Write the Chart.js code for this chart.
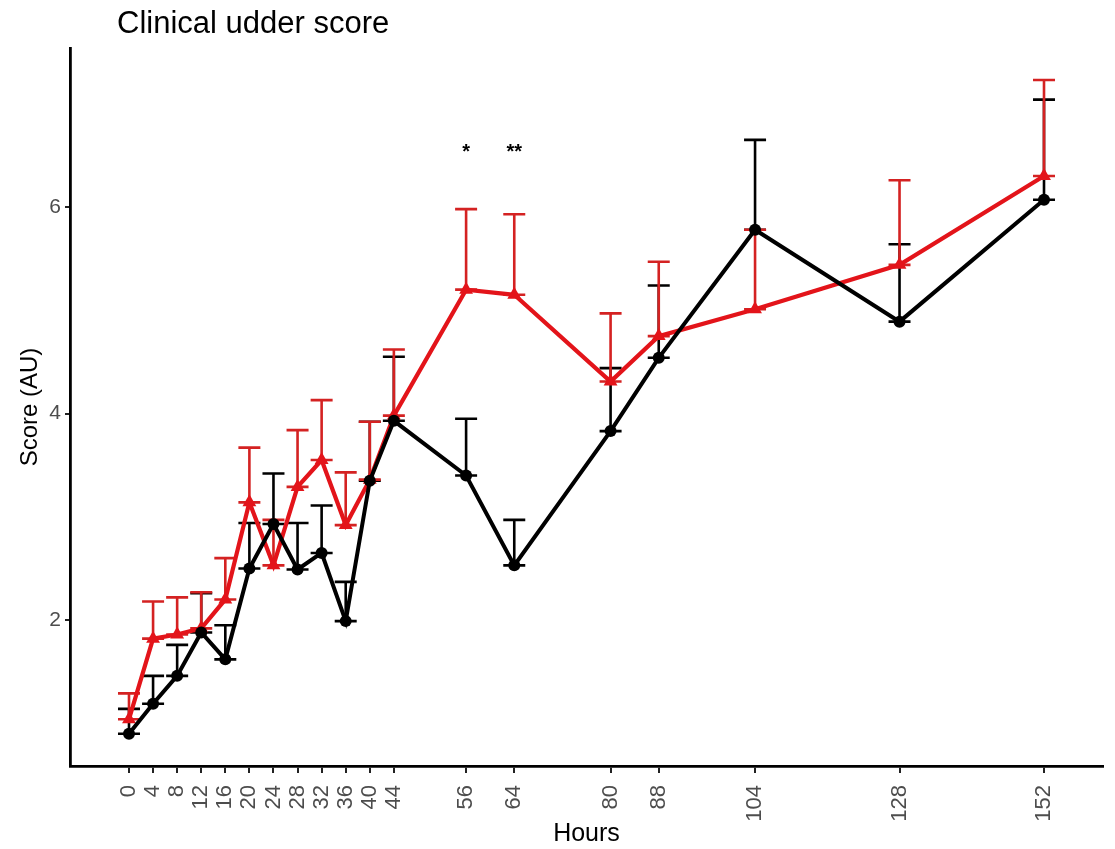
<!DOCTYPE html>
<html>
<head>
<meta charset="utf-8">
<script src="https://cdn.jsdelivr.net/npm/chart.js@4/dist/chart.umd.min.js"></script>
<style>
  body { margin: 0; background: #fff; }
  #wrap { width: 1115px; height: 849px; }
</style>
</head>
<body>
<div id="wrap"><canvas id="myChart" width="1115" height="849"></canvas></div>
<script>
// data
const hours = [0, 4, 8, 12, 16, 20, 24, 28, 32, 36, 40, 44, 56, 64, 80, 88, 104, 128, 152]
const blackMean = [0.90, 1.19, 1.46, 1.88, 1.62, 2.50, 2.93, 2.49, 2.65, 1.99, 3.35, 3.93, 3.40, 2.53, 3.83, 4.54, 5.78, 4.89, 6.07]
const blackUpper = [1.14, 1.46, 1.76, 2.26, 1.95, 2.94, 3.42, 2.94, 3.11, 2.37, 3.92, 4.55, 3.95, 2.97, 4.44, 5.24, 6.65, 5.64, 7.04]
const redMean = [1.04, 1.82, 1.86, 1.92, 2.20, 3.14, 2.53, 3.29, 3.55, 2.92, 3.36, 3.98, 5.20, 5.15, 4.31, 4.75, 5.01, 5.44, 6.30]
const redUpper = [1.29, 2.18, 2.22, 2.27, 2.60, 3.67, 2.97, 3.84, 4.13, 3.43, 3.92, 4.62, 5.98, 5.93, 4.97, 5.47, 5.78, 6.26, 7.23]
const yTicks = [2, 4, 6]
const starHours = [56, 64]
const starLabels = ["*", "**"]
const starLevel = 6.53

const blackColor = "#000000"
const redColor = "#e3141a"
const redBarColor = "#d42222"
const fontFamily = "'Liberation Sans', Arial, sans-serif"

function toPoints(means) {
    return hours.map((h, i) => ({ x: h, y: means[i] }))
}

// upper error bars, cap at mean and at mean + se
const errorBars = {
    id: "errorBars",
    beforeDatasetsDraw(chart) {
        const ctx = chart.ctx
        const xs = chart.scales.x
        const ys = chart.scales.y
        const sets = [
            { mean: blackMean, up: blackUpper, color: blackColor, w: 2.6 },
            { mean: redMean, up: redUpper, color: redBarColor, w: 2.6 }
        ]
        ctx.save()
        sets.forEach(s => {
            ctx.strokeStyle = s.color
            ctx.lineWidth = s.w
            for (let i = 0; i < hours.length; i++) {
                const px = xs.getPixelForValue(hours[i])
                const y0 = ys.getPixelForValue(s.mean[i])
                const y1 = ys.getPixelForValue(s.up[i])
                ctx.beginPath()
                ctx.moveTo(px, y0)
                ctx.lineTo(px, y1)
                ctx.moveTo(px - 11, y1)
                ctx.lineTo(px + 11, y1)
                ctx.moveTo(px - 11, y0)
                ctx.lineTo(px + 11, y0)
                ctx.stroke()
            }
        })
        ctx.restore()
    }
}

const extras = {
    id: "extras",
    afterDraw(chart) {
        const ctx = chart.ctx
        const xs = chart.scales.x
        const ys = chart.scales.y
        ctx.save()
        ctx.fillStyle = "#000"
        ctx.font = "bold 20px " + fontFamily
        ctx.textAlign = "center"
        ctx.textBaseline = "middle"
        for (let i = 0; i < starHours.length; i++) {
            ctx.fillText(starLabels[i], xs.getPixelForValue(starHours[i]), ys.getPixelForValue(starLevel))
        }
        ctx.font = "31px " + fontFamily
        ctx.textAlign = "left"
        ctx.textBaseline = "alphabetic"
        ctx.fillText("Clinical udder score", 117, 33)
        ctx.restore()
    }
}

new Chart("myChart", {
    type: "line",
    data: {
        datasets: [{
            data: toPoints(blackMean),
            borderColor: blackColor,
            backgroundColor: blackColor,
            borderWidth: 4,
            pointStyle: "circle",
            pointRadius: 6,
            pointBorderWidth: 0,
            tension: 0
        }, {
            data: toPoints(redMean),
            borderColor: redColor,
            backgroundColor: redColor,
            borderWidth: 4.2,
            pointStyle: "triangle",
            pointRadius: 8,
            pointBorderWidth: 0,
            tension: 0
        }]
    },
    options: {
        responsive: false,
        animation: false,
        layout: { padding: { top: 48, right: 12, left: 0, bottom: 0 } },
        plugins: {
            legend: { display: false },
            tooltip: { enabled: false }
        },
        scales: {
            x: {
                type: "linear",
                min: -9.8,
                max: 161.8,
                afterBuildTicks: axis => { axis.ticks = hours.map(v => ({ value: v })) },
                afterFit: axis => { axis.height = 83 },
                border: { color: "#000", width: 2.8 },
                grid: { drawOnChartArea: false, color: "#222", lineWidth: 2, tickLength: 7 },
                ticks: {
                    autoSkip: false,
                    minRotation: 90,
                    maxRotation: 90,
                    padding: 12,
                    color: "#4d4d4d",
                    font: { family: fontFamily, size: 22 }
                },
                title: {
                    display: true,
                    text: "Hours",
                    color: "#000",
                    padding: { top: 0, bottom: 0 },
                    font: { family: fontFamily, size: 25 }
                }
            },
            y: {
                min: 0.587,
                max: 7.54,
                afterBuildTicks: axis => { axis.ticks = yTicks.map(v => ({ value: v })) },
                afterFit: axis => { axis.width = 70 },
                border: { color: "#000", width: 2.8 },
                grid: { drawOnChartArea: false, color: "#222", lineWidth: 2, tickLength: 5 },
                ticks: {
                    padding: 4,
                    color: "#4d4d4d",
                    font: { family: fontFamily, size: 21 }
                },
                title: {
                    display: true,
                    text: "Score (AU)",
                    color: "#000",
                    padding: { top: 16, bottom: 0 },
                    font: { family: fontFamily, size: 24 }
                }
            }
        }
    },
    plugins: [errorBars, extras]
})
</script>
</body>
</html>
